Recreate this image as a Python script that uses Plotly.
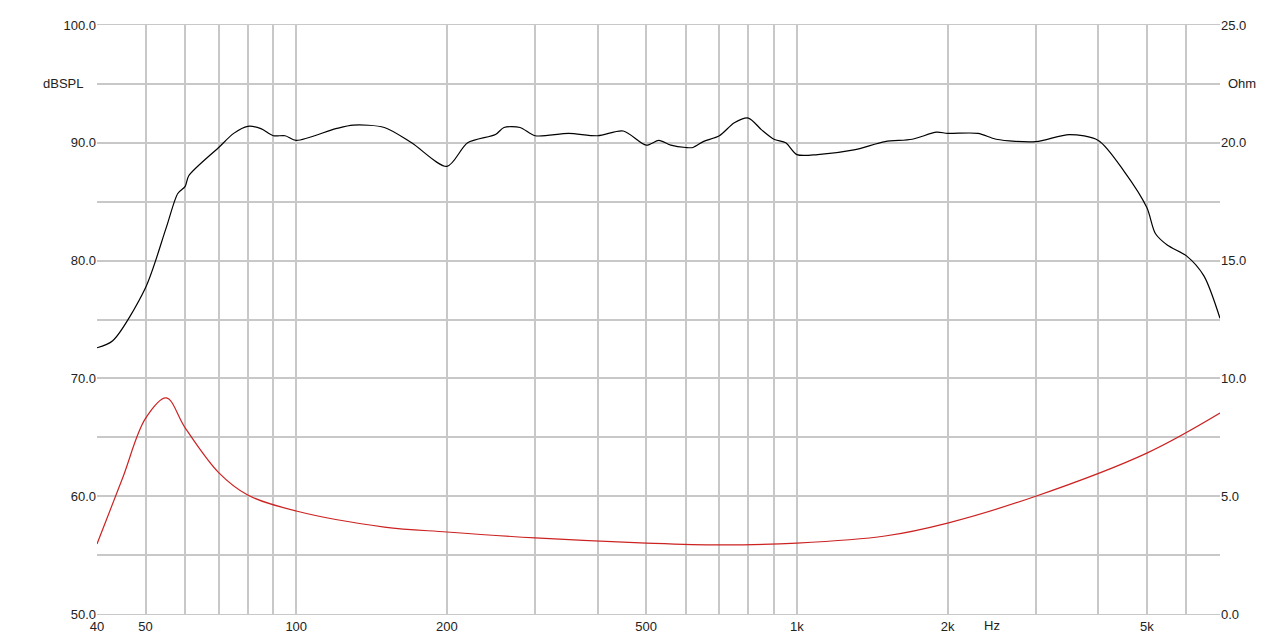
import plotly.graph_objects as go
import numpy as np

spl_f = [40,43,50,55,58,60,61,70,75,80,85,90,95,100,120,130,150,170,200,220,250,260,280,300,350,400,450,500,530,560,600,620,650,700,750,800,850,900,950,1000,1100,1300,1500,1700,1900,2000,2300,2500,3000,3500,4000,4500,5000,5200,5500,6000,6500,7000]
spl_db = [72.6,73.2,77.7,82.8,85.7,86.3,87.2,89.6,90.8,91.4,91.2,90.6,90.6,90.2,91.2,91.5,91.3,90.0,88.0,90.0,90.7,91.3,91.3,90.6,90.8,90.6,91.0,89.8,90.2,89.8,89.6,89.6,90.1,90.6,91.7,92.1,91.1,90.3,90.0,89.0,89.0,89.4,90.1,90.3,90.9,90.8,90.8,90.3,90.1,90.7,90.2,87.6,84.5,82.3,81.3,80.4,78.7,75.1]
imp_f = [40,45,50,55,60,70,80,100,150,200,300,500,700,1000,1500,2000,3000,5000,7000]
imp_ohm = [2.97,5.77,8.3,9.17,7.9,6.0,5.05,4.37,3.69,3.48,3.23,3.01,2.93,3.01,3.31,3.86,5.0,6.83,8.53]

grid_x = [40,50,60,70,80,90,100,200,300,400,500,600,700,800,900,1000,2000,3000,4000,5000,6000,7000]
labels = {40:"40",50:"50",100:"100",200:"200",500:"500",1000:"1k",2000:"2k",5000:"5k"}
ticktext = [labels.get(v, "") for v in grid_x]
y_vals = list(range(50, 101, 5))
y_text = [f"{v:.1f}" if v % 10 == 0 else "" for v in y_vals]
ohm_vals = [0,5,10,15,20,25]

fig = go.Figure()
fig.add_trace(go.Scatter(x=spl_f, y=spl_db, mode="lines", line=dict(color="black", width=1.2, shape="spline", smoothing=0.8), showlegend=False))
fig.add_trace(go.Scatter(x=imp_f, y=imp_ohm, mode="lines", yaxis="y2", line=dict(color="#cc2222", width=1.2, shape="spline", smoothing=1.0), showlegend=False))

fig.update_layout(
    width=1271, height=634, margin=dict(l=89, r=59, t=17, b=28),
    plot_bgcolor="white", paper_bgcolor="white",
    font=dict(family="Liberation Sans, Arial", size=13, color="#222"),
    xaxis=dict(type="log", range=[np.log10(40), np.log10(7000)], tickvals=grid_x, ticktext=ticktext, automargin=False,
               showgrid=True, gridcolor="#c8c8c8", gridwidth=1.5, ticks="", showline=True, linecolor="#c8c8c8", mirror=True, zeroline=False),
    yaxis=dict(range=[50, 100], tickvals=y_vals, ticktext=y_text, showgrid=True, gridcolor="#c8c8c8", gridwidth=1.5,
               ticks="", zeroline=False, showline=False, automargin=False),
    yaxis2=dict(range=[0, 25], overlaying="y", side="right", tickvals=ohm_vals, ticktext=[f"{v:.1f}" for v in ohm_vals],
                showgrid=False, ticks="", zeroline=False, automargin=False),
    annotations=[
        dict(x=0, xref="paper", xanchor="right", xshift=-12, y=95, yref="y", text="dBSPL", showarrow=False),
        dict(x=1, xref="paper", xanchor="left", xshift=6, y=95, yref="y", text="Ohm", showarrow=False),
        dict(x=np.log10(2450), xref="x", y=0, yref="paper", yanchor="top", yshift=-2, text="Hz", showarrow=False),
    ],
)
fig.write_html("out.html")
